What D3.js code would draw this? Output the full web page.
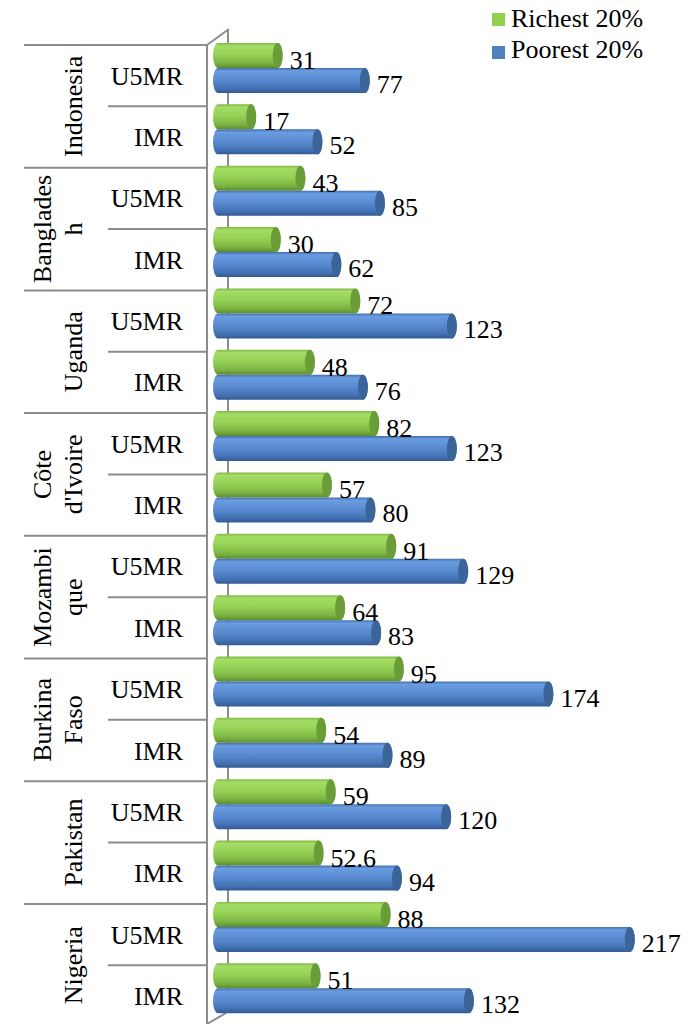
<!DOCTYPE html>
<html lang="en">
<head>
  <meta charset="UTF-8">
  <title>U5MR / IMR by wealth quintile</title>
  <script src="https://cdn.jsdelivr.net/npm/d3@7"></script>
  <style>
    body { margin: 0; background: #fff; }
    text { font-family: "Liberation Serif", "Times New Roman", serif; fill: #000; }
  </style>
</head>
<body>
  <svg id="chart"></svg>
  <script>
    // data, top to bottom
    const countries = ["Indonesia", "Bangladesh", "Uganda", "Côte d'Ivoire", "Mozambique", "Burkina Faso", "Pakistan", "Nigeria"];
    const countryLines = [["Indonesia"], ["Banglades", "h"], ["Uganda"], ["Côte", "d'Ivoire"], ["Mozambi", "que"], ["Burkina", "Faso"], ["Pakistan"], ["Nigeria"]];
    const indicators = ["U5MR", "IMR"];
    // [U5MR, IMR] per country
    const richest = [[31, 17], [43, 30], [72, 48], [82, 57], [91, 64], [95, 54], [59, 52.6], [88, 51]];
    const poorest = [[77, 52], [85, 62], [123, 76], [123, 80], [129, 83], [174, 89], [120, 94], [217, 132]];
    const seriesNames = ["Richest 20%", "Poorest 20%"];

    let width = 694, height = 1024;
    let svg = d3.select("#chart").attr("width", width).attr("height", height);

    let rows = [];
    countries.forEach((c, i) => {
      indicators.forEach((ind, j) => {
        rows.push({ id: c + "-" + ind, country: c, ind: ind, rich: richest[i][j], poor: poorest[i][j] });
      });
    });

    let plotTop = 45, plotBottom = 1026.6;
    let y = d3.scaleBand().domain(rows.map(d => d.id)).range([plotTop, plotBottom]);
    let x = d3.scaleLinear().domain([0, 220]).range([224, 224 + 220 * 1.893]);
    let rowH = y.bandwidth();
    let barH = 25, capR = 5;
    let frontX = 207, backX = 228;

    // gradients for the cylinders
    let defs = svg.append("defs");
    function grad(id, stops) {
      let g = defs.append("linearGradient").attr("id", id)
        .attr("x1", 0).attr("y1", 0).attr("x2", 0).attr("y2", 1);
      stops.forEach(s => g.append("stop").attr("offset", s[0]).attr("stop-color", s[1]));
    }
    grad("gGreen", [[0, "#7fbb44"], [0.12, "#a4dc66"], [0.45, "#95d256"], [0.8, "#7cb443"], [1, "#5d8c2e"]]);
    grad("gBlue", [[0, "#426fac"], [0.12, "#6a9ce0"], [0.45, "#5b8cd2"], [0.8, "#4574b6"], [1, "#335a92"]]);
    const capColor = { rich: "#6a9c38", poor: "#3b6499" };
    const fillId = { rich: "url(#gGreen)", poor: "url(#gBlue)" };

    let lineColor = "#8c8c8c";
    let axisG = svg.append("g");

    // back wall line + 3D corners
    axisG.append("line").attr("x1", backX).attr("x2", backX).attr("y1", 29).attr("y2", 1013)
      .attr("stroke", lineColor).attr("stroke-width", 2);
    axisG.append("line").attr("x1", frontX).attr("y1", plotTop).attr("x2", backX + 1).attr("y2", 29)
      .attr("stroke", lineColor).attr("stroke-width", 2);
    axisG.append("line").attr("x1", frontX).attr("y1", 1024).attr("x2", backX - 2).attr("y2", 1013)
      .attr("stroke", lineColor).attr("stroke-width", 2);

    // bars
    function cylinder(x0, x1, yTop, h) {
      let ry = h / 2;
      return `M${x0 + capR},${yTop} L${x1},${yTop} A${capR},${ry} 0 0 1 ${x1},${yTop + h} ` +
             `L${x0 + capR},${yTop + h} A${capR},${ry} 0 0 1 ${x0 + capR},${yTop} Z`;
    }
    let barG = svg.append("g");
    let series = [
      { key: "rich", off: -2, labelOff: 24 },
      { key: "poor", off: 23, labelOff: 48 }
    ];
    series.forEach(s => {
      let g = barG.selectAll(".bar-" + s.key).data(rows).enter().append("g").attr("class", "bar-" + s.key);
      g.append("path")
        .attr("d", d => cylinder(x(0) - 11, x(d[s.key]) - capR, y(d.id) + s.off, barH))
        .attr("fill", fillId[s.key]);
      g.append("ellipse")
        .attr("cx", d => x(d[s.key]) - capR)
        .attr("cy", d => y(d.id) + s.off + barH / 2)
        .attr("rx", capR).attr("ry", barH / 2)
        .attr("fill", capColor[s.key]);
    });

    // value labels
    series.forEach(s => {
      barG.selectAll(".lab-" + s.key).data(rows).enter().append("text")
        .attr("class", "lab-" + s.key)
        .attr("x", d => x(d[s.key]) + 7)
        .attr("y", d => y(d.id) + s.labelOff)
        .style("font-size", "26px")
        .text(d => d[s.key]);
    });

    // category axis
    axisG.append("line").attr("x1", frontX).attr("x2", frontX).attr("y1", plotTop).attr("y2", 1024)
      .attr("stroke", lineColor).attr("stroke-width", 2);
    let bounds = rows.map((d, i) => ({ yy: y(d.id), outer: i % 2 === 0 }));
    bounds.push({ yy: plotBottom, outer: true });
    axisG.selectAll(".div").data(bounds).enter().append("line")
      .attr("x1", d => d.outer ? 24 : 108).attr("x2", frontX)
      .attr("y1", d => d.yy).attr("y2", d => d.yy)
      .attr("stroke", lineColor).attr("stroke-width", 2);

    axisG.selectAll(".ind").data(rows).enter().append("text")
      .attr("x", 183).attr("y", d => y(d.id) + rowH / 2 + 9)
      .attr("text-anchor", "end").style("font-size", "26px")
      .text(d => d.ind);

    let ctryG = axisG.selectAll(".ctry").data(countries).enter().append("g")
      .attr("transform", (c, i) => {
        let cy = y(c + "-" + indicators[0]) + rowH;
        return `translate(82,${cy}) rotate(-90)`;
      });
    ctryG.each(function(c, i) {
      let lines = countryLines[i];
      d3.select(this).selectAll("text").data(lines).enter().append("text")
        .attr("x", 0)
        .attr("y", (t, k) => (k - (lines.length - 1)) * 31)
        .attr("text-anchor", "middle").style("font-size", "26px")
        .text(t => t);
    });

    // legend
    let legend = svg.append("g");
    let legColors = ["#92d050", "#4f81bd"];
    seriesNames.forEach((name, i) => {
      legend.append("rect").attr("x", 492).attr("y", 13 + i * 33).attr("width", 13).attr("height", 13)
        .attr("fill", legColors[i]);
      legend.append("text").attr("x", 511).attr("y", 27 + i * 31)
        .style("font-size", "26px").text(name);
    });
  </script>
</body>
</html>
